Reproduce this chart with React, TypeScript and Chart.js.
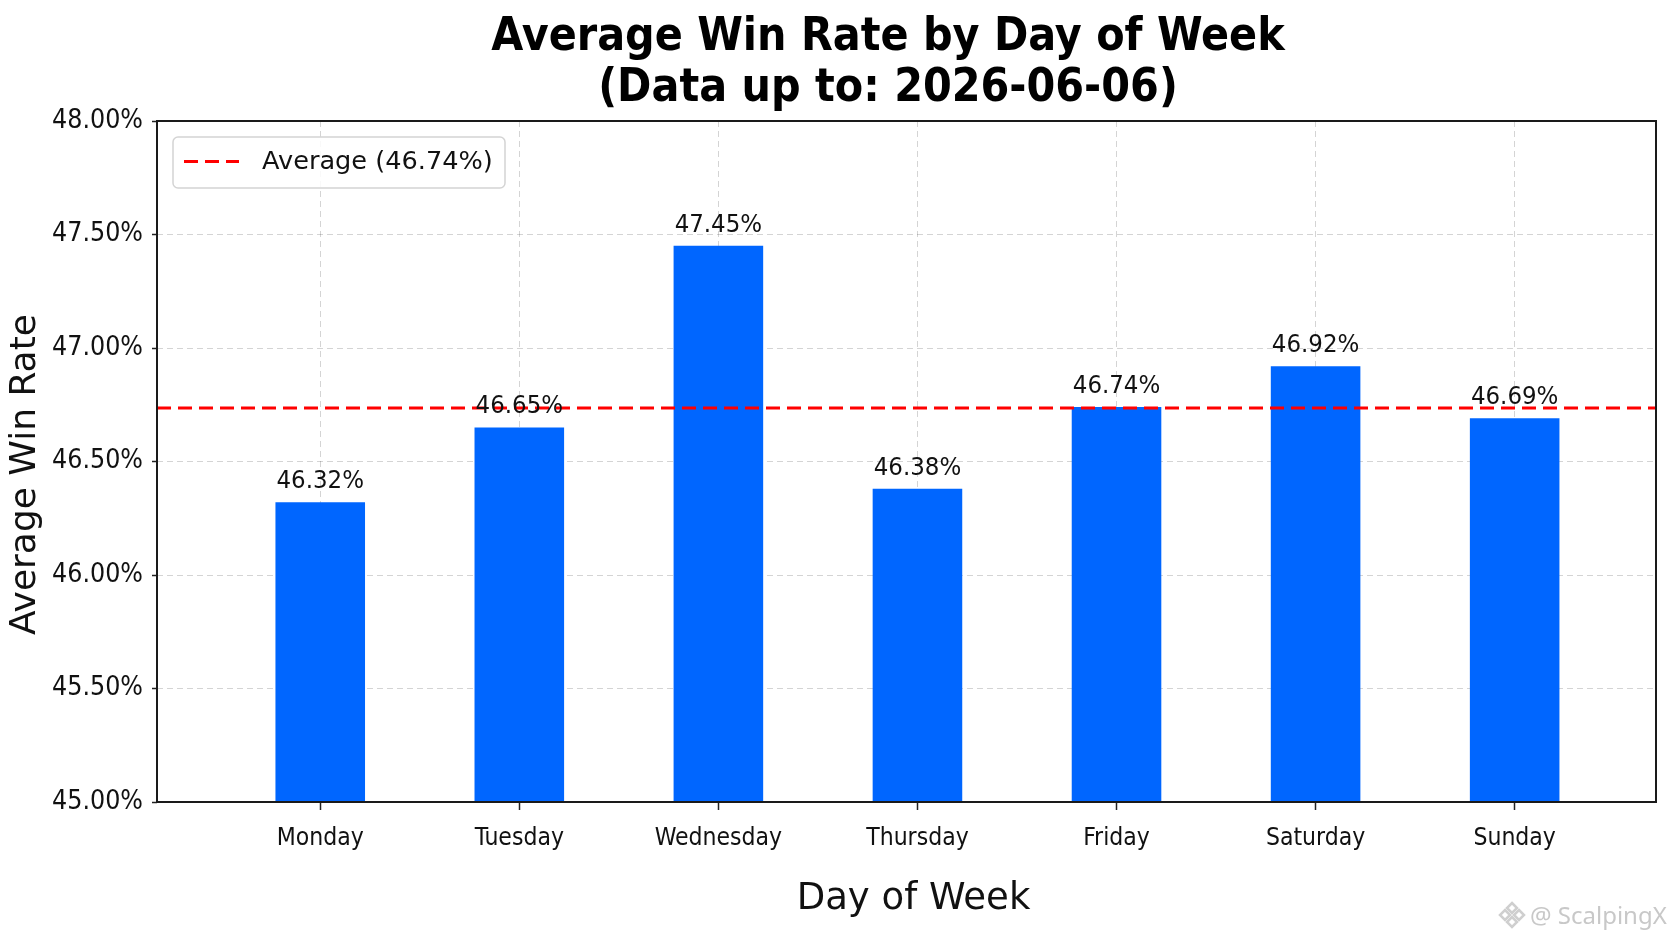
import { useEffect, useRef } from "react"
import { Chart, registerables, type Plugin } from "chart.js"

Chart.register(...registerables)
Chart.defaults.font.family = "'DejaVu Sans', sans-serif"
Chart.defaults.color = "#111"

const days = ["Monday", "Tuesday", "Wednesday", "Thursday", "Friday", "Saturday", "Sunday"]
const winRates = [46.32, 46.65, 47.45, 46.38, 46.74, 46.92, 46.69]
const yTicks = [45, 45.5, 46, 46.5, 47, 47.5, 48]
const titleLines = ["Average Win Rate by Day of Week", "(Data up to: 2026-06-06)"]
const xTitle = "Day of Week"
const yTitle = "Average Win Rate"

const average = winRates.reduce((a, b) => a + b, 0) / winRates.length

// x range in "day index" units so the bars sit where they do in the picture
const X_MIN = -0.82
const X_MAX = 6.71
const BAR_BLUE = "#0066ff"
const GRID_COLOR = "rgba(0, 0, 0, 0.17)"
const NARROW = "'DejaVu Sans Condensed', 'DejaVu Sans', sans-serif"

const framePlugin: Plugin = {
  id: "frame",
  afterDatasetsDraw(chart) {
    const { ctx, chartArea: a } = chart
    ctx.save()
    ctx.strokeStyle = "#1a1a1a"
    ctx.lineWidth = 2
    ctx.strokeRect(a.left, a.top, a.right - a.left, a.bottom - a.top)
    ctx.restore()
  },
}

const valueLabels: Plugin = {
  id: "valueLabels",
  afterDatasetsDraw(chart) {
    const { ctx } = chart
    const meta = chart.getDatasetMeta(0)
    ctx.save()
    ctx.font = `25.5px ${NARROW}`
    ctx.fillStyle = "#111"
    ctx.textAlign = "center"
    ctx.textBaseline = "alphabetic"
    meta.data.forEach((bar, i) => {
      ctx.fillText(`${winRates[i].toFixed(2)}%`, bar.x, bar.y - 14)
    })
    ctx.restore()
  },
}

const boxLegend: Plugin = {
  id: "boxLegend",
  afterDraw(chart) {
    const { ctx, chartArea: a } = chart
    const ds = chart.data.datasets[1] as any
    const x = a.left + 16
    const y = a.top + 16
    const w = 332
    const h = 51
    ctx.save()
    ctx.beginPath()
    ctx.roundRect(x, y, w, h, 5)
    ctx.fillStyle = "rgba(255,255,255,0.85)"
    ctx.fill()
    ctx.strokeStyle = "#d4d4d4"
    ctx.lineWidth = 1.5
    ctx.stroke()
    const cy = y + h / 2 - 1
    ctx.beginPath()
    ctx.setLineDash(ds.borderDash)
    ctx.strokeStyle = ds.borderColor
    ctx.lineWidth = ds.borderWidth
    ctx.moveTo(x + 11, cy)
    ctx.lineTo(x + 66, cy)
    ctx.stroke()
    ctx.setLineDash([])
    ctx.font = "25.6px 'DejaVu Sans'"
    ctx.fillStyle = "#111"
    ctx.textBaseline = "middle"
    ctx.textAlign = "left"
    ctx.fillText(ds.label, x + 89, cy + 1)
    ctx.restore()
  },
}

const textPlugin: Plugin = {
  id: "texts",
  afterDraw(chart) {
    const { ctx, chartArea: a } = chart
    ctx.save()
    ctx.fillStyle = "#000"
    ctx.font = `bold 46px ${NARROW}`
    ctx.textAlign = "center"
    ctx.textBaseline = "alphabetic"
    ctx.fillText(titleLines[0], 888, 50)
    ctx.fillText(titleLines[1], 888, 101)

    // axis titles
    ctx.fillStyle = "#111"
    ctx.textBaseline = "middle"
    ctx.font = "37px 'DejaVu Sans'"
    ctx.fillText(xTitle, (a.left + a.right) / 2 + 7, 899)
    ctx.save()
    ctx.translate(26, (a.top + a.bottom) / 2 + 13)
    ctx.rotate(-Math.PI / 2)
    ctx.font = "36px 'DejaVu Sans'"
    ctx.fillText(yTitle, 0, 0)
    ctx.restore()

    // watermark
    ctx.strokeStyle = "#cfcfcf"
    ctx.lineWidth = 2.5
    const lx = 1512
    const ly = 915
    for (const [dx, dy] of [[0, -7], [-7, 0], [7, 0], [0, 7]]) {
      ctx.beginPath()
      ctx.moveTo(lx + dx, ly + dy - 5)
      ctx.lineTo(lx + dx + 5, ly + dy)
      ctx.lineTo(lx + dx, ly + dy + 5)
      ctx.lineTo(lx + dx - 5, ly + dy)
      ctx.closePath()
      ctx.stroke()
    }
    ctx.fillStyle = "#c8c8c8"
    ctx.font = "24px 'Noto Sans'"
    ctx.textAlign = "left"
    ctx.textBaseline = "alphabetic"
    ctx.fillText("@ ScalpingX", 1530, 924)
    ctx.restore()
  },
}

function WinRateChart() {
  const canvasRef = useRef<HTMLCanvasElement>(null)

  useEffect(() => {
    if (!canvasRef.current) return

    const chart = new Chart(canvasRef.current, {
      type: "bar",
      data: {
        datasets: [
          {
            type: "bar",
            label: "Win Rate",
            data: winRates.map((y, i) => ({ x: i, y })),
            backgroundColor: BAR_BLUE,
            base: yTicks[0],
            barPercentage: 0.45,
            categoryPercentage: 1,
            order: 1,
          },
          {
            type: "line",
            label: `Average (${average.toFixed(2)}%)`,
            data: [
              { x: X_MIN, y: average },
              { x: X_MAX, y: average },
            ],
            borderColor: "#ff0000",
            borderWidth: 3,
            borderDash: [14, 7],
            pointRadius: 0,
            fill: false,
            order: 0,
          },
        ] as any,
      },
      options: {
        animation: false,
        responsive: true,
        maintainAspectRatio: false,
        layout: { padding: { top: 121, right: 16, bottom: 0, left: 0 } },
        plugins: {
          legend: { display: false },
          title: { display: false },
          tooltip: { enabled: false },
        },
        scales: {
          x: {
            type: "linear",
            min: X_MIN,
            max: X_MAX,
            offset: false,
            afterBuildTicks: (s) => {
              s.ticks = days.map((_, i) => ({ value: i }))
            },
            afterFit: (s) => {
              s.height = 139
            },
            ticks: {
              callback: (v) => days[Number(v)] ?? "",
              font: { size: 24.5, family: NARROW },
              color: "#111",
              padding: 14,
              maxRotation: 0,
              autoSkip: false,
            },
            grid: {
              offset: false,
              color: GRID_COLOR,
              lineWidth: 1,
              tickColor: "#222",
              tickLength: 8,
              tickWidth: 1.5,
            },
            border: { display: false, dash: [6, 4] },
          },
          y: {
            type: "linear",
            min: yTicks[0],
            max: yTicks[yTicks.length - 1],
            afterBuildTicks: (s) => {
              s.ticks = yTicks.map((value) => ({ value }))
            },
            afterFit: (s) => {
              s.width = 157
            },
            ticks: {
              callback: (v) => `${Number(v).toFixed(2)}%`,
              font: { size: 26.5, family: NARROW },
              color: "#111",
              padding: 9,
            },
            grid: {
              color: GRID_COLOR,
              lineWidth: 1,
              tickColor: "#222",
              tickLength: 5,
              tickWidth: 1.5,
            },
            border: { display: false, dash: [6, 4] },
          },
        },
      },
      plugins: [framePlugin, valueLabels, boxLegend, textPlugin],
    })

    return () => {
      chart.destroy()
    }
  }, [])

  return <canvas ref={canvasRef} />
}

export default function App() {
  return (
    <div
      style={{
        position: "fixed",
        left: 0,
        top: 0,
        width: 1672,
        height: 941,
        background: "#fff",
      }}
    >
      <WinRateChart />
    </div>
  )
}
